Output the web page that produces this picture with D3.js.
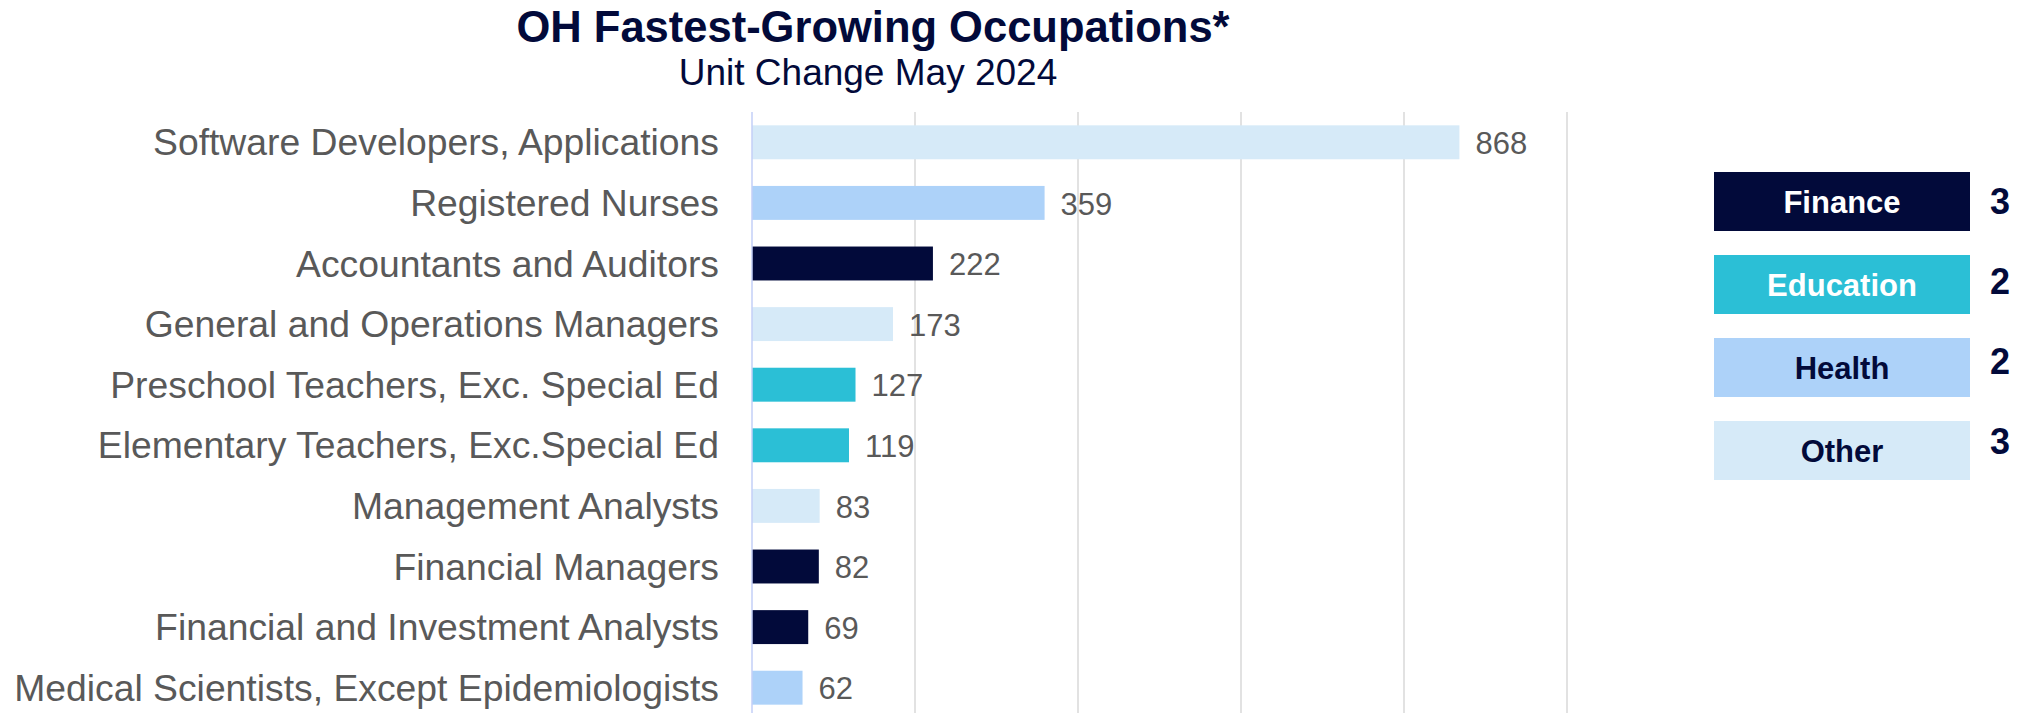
<!DOCTYPE html>
<html>
<head>
<meta charset="utf-8">
<script src="https://cdn.jsdelivr.net/npm/d3@7"></script>
<style>
    body { margin: 0; background: #fff; }
    svg { display: block; font-family: "Liberation Sans", Arial, sans-serif; }
</style>
</head>
<body>
<div id="chart"></div>
<script>
// Chart data
// ------------------------------------------------------------------
const occupations = [
    "Software Developers, Applications",
    "Registered Nurses",
    "Accountants and Auditors",
    "General and Operations Managers",
    "Preschool Teachers, Exc. Special Ed",
    "Elementary Teachers, Exc.Special Ed",
    "Management Analysts",
    "Financial Managers",
    "Financial and Investment Analysts",
    "Medical Scientists, Except Epidemiologists"
]
const unitChange = [868, 359, 222, 173, 127, 119, 83, 82, 69, 62]
const sectors = ["Other", "Health", "Finance", "Other", "Education", "Education", "Other", "Finance", "Finance", "Health"]

const legendGroups = ["Finance", "Education", "Health", "Other"]
const xTicks = [0, 200, 400, 600, 800, 1000]

const titleText = "OH Fastest-Growing Occupations*"
const subtitleText = "Unit Change May 2024"

// Colours
const sectorColour = d3.scaleOrdinal()
    .domain(legendGroups)
    .range(["#020A3A", "#2BBFD6", "#ADD2F9", "#D6EAF8"])
const legendTextColour = {Finance: "#ffffff", Education: "#ffffff", Health: "#020A3A", Other: "#020A3A"}

function drawChart(container) {
    const width = 2043, height = 713

    let data = occupations.map((name, i) => ({name: name, value: unitChange[i], sector: sectors[i]}))

    let svg = d3.select(container).append("svg")
        .attr("width", width)
        .attr("height", height)

    // Scales
    let x = d3.scaleLinear().domain([0, 1000]).range([752, 1567])
    let y = d3.scaleBand().domain(occupations).range([112, 718]).paddingInner(0.44).paddingOuter(0.22)

    // Titles
    svg.append("text")
        .attr("x", 873).attr("y", 42)
        .attr("text-anchor", "middle")
        .style("font-size", "43.5px").style("font-weight", "bold")
        .style("fill", "#020A3A")
        .text(titleText)
    svg.append("text")
        .attr("x", 868).attr("y", 85)
        .attr("text-anchor", "middle")
        .style("font-size", "37px")
        .style("fill", "#020A3A")
        .text(subtitleText)

    // Vertical gridlines
    svg.append("g").attr("id", "grid")
        .selectAll("line")
        .data(xTicks.slice(1))
        .join("line")
        .attr("x1", d => x(d)).attr("x2", d => x(d))
        .attr("y1", 112).attr("y2", height)
        .style("stroke", "#D9D9D9")
        .style("stroke-width", 1.5)

    // Bars
    svg.append("g").attr("id", "bars")
        .selectAll("rect")
        .data(data)
        .join("rect")
        .attr("x", x(0))
        .attr("y", d => y(d.name))
        .attr("width", d => x(d.value) - x(0))
        .attr("height", y.bandwidth())
        .style("fill", d => sectorColour(d.sector))

    // Value axis line
    svg.append("line")
        .attr("x1", x(0)).attr("x2", x(0))
        .attr("y1", 112).attr("y2", height)
        .style("stroke", "#C3CFF7")
        .style("stroke-width", 1.5)

    // Value labels
    svg.append("g").attr("id", "values")
        .selectAll("text")
        .data(data)
        .join("text")
        .attr("x", d => x(d.value) + 16)
        .attr("y", d => y(d.name) + y.bandwidth() / 2)
        .attr("dy", "0.38em")
        .style("font-size", "31px")
        .style("fill", "#595959")
        .text(d => d.value)

    // Category labels
    let yAxis = svg.append("g")
        .attr("transform", "translate(" + (x(0) - 33) + ",0)")
        .call(d3.axisLeft(y).tickSize(0).tickPadding(0))
    yAxis.select(".domain").remove()
    yAxis.selectAll("text")
        .attr("dy", "0.35em")
        .style("font-size", "37.3px")
        .style("font-family", "Liberation Sans, Arial, sans-serif")
        .style("fill", "#595959")

    // Legend with sector counts
    let counts = d3.rollup(data, v => v.length, d => d.sector)
    let boxY = d3.scalePoint().domain(legendGroups).range([172, 421])
    let numY = d3.scalePoint().domain(legendGroups).range([201, 441])
    let boxW = 256, boxH = 59

    let legend = svg.append("g").attr("id", "legend")
    let item = legend.selectAll("g")
        .data(legendGroups)
        .join("g")

    item.append("rect")
        .attr("x", 1714)
        .attr("y", d => boxY(d))
        .attr("width", boxW)
        .attr("height", boxH)
        .style("fill", d => sectorColour(d))

    item.append("text")
        .attr("x", 1714 + boxW / 2)
        .attr("y", d => boxY(d) + boxH / 2)
        .attr("dy", "0.37em")
        .attr("text-anchor", "middle")
        .style("font-size", "31px").style("font-weight", "bold")
        .style("fill", d => legendTextColour[d])
        .text(d => d)

    item.append("text")
        .attr("x", 2000)
        .attr("y", d => numY(d))
        .attr("dy", "0.36em")
        .attr("text-anchor", "middle")
        .style("font-size", "36px").style("font-weight", "bold")
        .style("fill", "#020A3A")
        .text(d => counts.get(d) || 0)
}

drawChart("#chart")
</script>
</body>
</html>
